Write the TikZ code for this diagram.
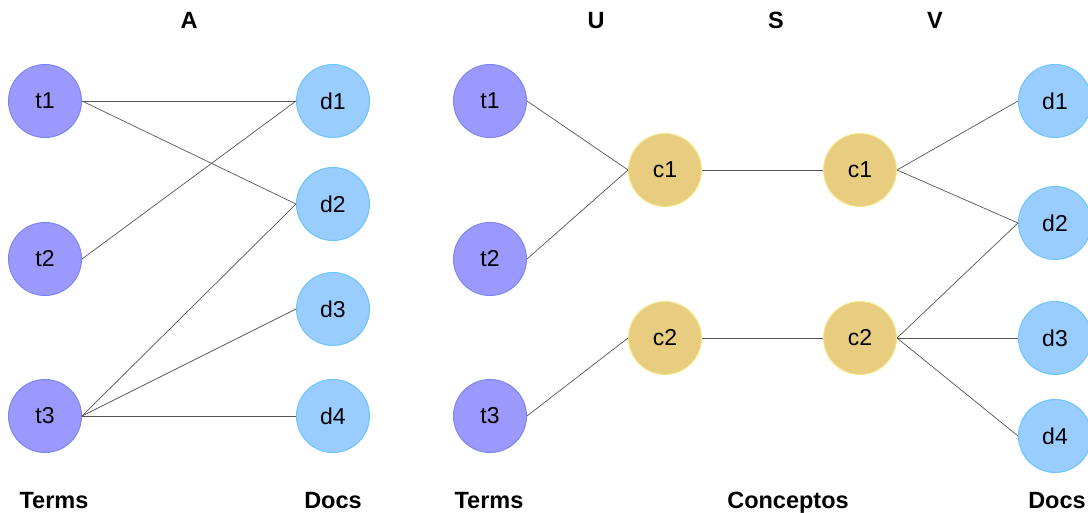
\documentclass[tikz,border=0pt]{standalone}
\usepackage{fontspec}
\setmainfont{Liberation Sans}
\definecolor{termfill}{HTML}{9B99FB}
\definecolor{termdraw}{HTML}{7C86F0}
\definecolor{docfill}{HTML}{99CCFF}
\definecolor{docdraw}{HTML}{6CC6FA}
\definecolor{confill}{HTML}{E8CC80}
\definecolor{condraw}{HTML}{F5E88A}
\definecolor{edgecol}{HTML}{555555}
\tikzset{
  nd/.style={circle, minimum size=73pt, inner sep=0pt, line width=1pt, font=\fontsize{23}{23}\selectfont},
  term/.style={nd, fill=termfill, draw=termdraw},
  doc/.style={nd, fill=docfill, draw=docdraw},
  con/.style={nd, fill=confill, draw=condraw},
  lbl/.style={font=\bfseries\fontsize{23.5}{23.5}\selectfont, anchor=base},
  edge/.style={draw=edgecol, line width=0.7pt}
}
\begin{document}
\begin{tikzpicture}[x=1pt,y=-1pt]
\useasboundingbox (0,0) rectangle (1088,513);
% left
\node[term] (lt1) at (45,101) {t1};
\node[term] (lt2) at (45,259) {t2};
\node[term] (lt3) at (45,416) {t3};
\node[doc] (ld1) at (333,101) {d1};
\node[doc] (ld2) at (333,204) {d2};
\node[doc] (ld3) at (333,309) {d3};
\node[doc] (ld4) at (333,416) {d4};
% right
\node[term] (rt1) at (490,101) {t1};
\node[term] (rt2) at (490,259) {t2};
\node[term] (rt3) at (490,416) {t3};
\node[con] (uc1) at (665,170) {c1};
\node[con] (uc2) at (665,338) {c2};
\node[con] (vc1) at (860,170) {c1};
\node[con] (vc2) at (860,338) {c2};
\node[doc] (rd1) at (1055,101) {d1};
\node[doc] (rd2) at (1055,223) {d2};
\node[doc] (rd3) at (1055,338) {d3};
\node[doc] (rd4) at (1055,436) {d4};
% labels
\node[lbl] (lA) at (189,29) {A};
\node[lbl] (lU) at (596,29) {U};
\node[lbl] (lS) at (776,29) {S};
\node[lbl] (lV) at (935,29) {V};
\node[lbl] (lTerms1) at (54,508) {Terms};
\node[lbl] (lDocs1) at (333,508) {Docs};
\node[lbl] (lTerms2) at (489,508) {Terms};
\node[lbl] (lCon) at (788,508) {Conceptos};
\node[lbl] (lDocs2) at (1057,508) {Docs};
% edges left
\path[edge] (lt1.east) -- (ld1.west);
\path[edge] (lt1.east) -- (ld2.west);
\path[edge] (lt2.east) -- (ld1.west);
\path[edge] (lt3.east) -- (ld2.west);
\path[edge] (lt3.east) -- (ld3.west);
\path[edge] (lt3.east) -- (ld4.west);
% edges right
\path[edge] (rt1.east) -- (uc1.west);
\path[edge] (rt2.east) -- (uc1.west);
\path[edge] (rt3.east) -- (uc2.west);
\path[edge] (uc1.east) -- (vc1.west);
\path[edge] (uc2.east) -- (vc2.west);
\path[edge] (vc1.east) -- (rd1.west);
\path[edge] (vc1.east) -- (rd2.west);
\path[edge] (vc2.east) -- (rd2.west);
\path[edge] (vc2.east) -- (rd3.west);
\path[edge] (vc2.east) -- (rd4.west);
\end{tikzpicture}
\end{document}
